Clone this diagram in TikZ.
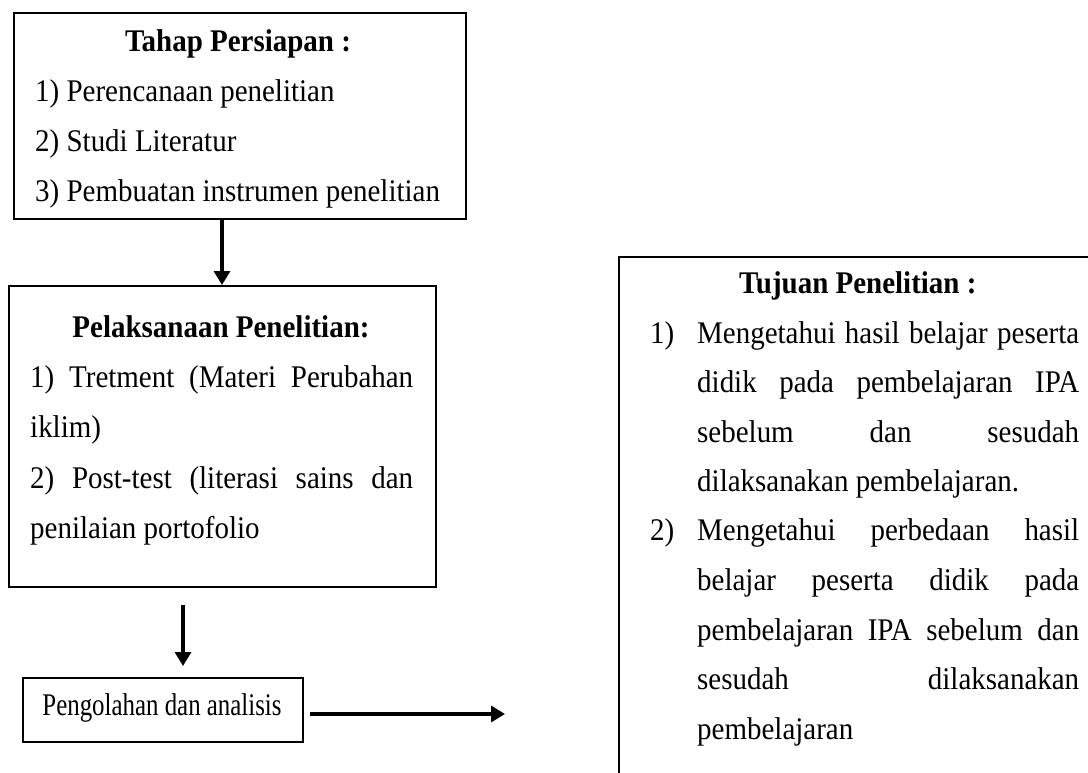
\documentclass[tikz,border=0pt]{standalone}
\usepackage{fontspec}
\setmainfont{Liberation Serif}[FakeStretch=0.92]
\newfontfamily\narrowserif{Liberation Serif}[FakeStretch=0.79]
\usetikzlibrary{arrows.meta}
\begin{document}
\begin{tikzpicture}[x=1pt,y=-1pt,
  box/.style={draw, line width=2.2pt, rectangle, inner sep=0pt, anchor=north west},
  txt/.style={anchor=base west, inner sep=0pt, font=\fontsize{31.5}{35}\selectfont},
  ttl/.style={anchor=base, inner sep=0pt, font=\fontsize{31.5}{35}\selectfont\bfseries},
  arr/.style={line width=3.3pt, -{Triangle[width=16pt,length=14pt]}}]
\clip (0,0) rectangle (1088,773);
\useasboundingbox (0,0) rectangle (1088,773);
% boxes
\node[box, minimum width=452pt, minimum height=206pt] (prep) at (13,12) {};
\node[box, minimum width=427pt, minimum height=301pt, line width=1.9pt] (exec) at (8,285) {};
\node[box, minimum width=280pt, minimum height=64pt] (proc) at (22,677) {};
\node[box, minimum width=500pt, minimum height=560pt] (goal) at (618,256) {};
% box 1 text
\node[ttl] (prepT) at (238,52) {Tahap Persiapan :};
\node[txt] (prep1) at (35,102) {1) Perencanaan penelitian};
\node[txt] (prep2) at (35,152) {2) Studi Literatur};
\node[txt] (prep3) at (35,202) {3) Pembuatan instrumen penelitian};
% box 2 text
\node[ttl] (execT) at (221,337) {Pelaksanaan Penelitian:};
\node[txt] (exec1) at (30,387) {\makebox[383pt][s]{1) Tretment (Materi Perubahan}};
\node[txt] (exec2) at (30,437) {iklim)};
\node[txt] (exec3) at (30,488) {\makebox[383pt][s]{2) Post-test (literasi sains dan}};
\node[txt] (exec4) at (30,538) {penilaian portofolio};
% box 3 text
\node[anchor=base, inner sep=0pt, font=\fontsize{31.5}{35}\narrowserif] (procT) at (162,715) {Pengolahan dan analisis};
% box 4 text
\node[txt, font=\fontsize{31.5}{35}\selectfont\bfseries] (goalT) at (739,293) {Tujuan Penelitian :};
\node[txt] (g1n) at (650,343) {1)};
\node[txt] (g1a) at (697,343) {\makebox[382pt][s]{Mengetahui hasil belajar peserta}};
\node[txt] (g1b) at (697,392.5) {\makebox[382pt][s]{didik pada pembelajaran IPA}};
\node[txt] (g1c) at (697,442) {\makebox[382pt][s]{sebelum dan sesudah}};
\node[txt] (g1d) at (697,491) {dilaksanakan pembelajaran.};
\node[txt] (g2n) at (650,540) {2)};
\node[txt] (g2a) at (697,540) {\makebox[382pt][s]{Mengetahui perbedaan hasil}};
\node[txt] (g2b) at (697,590) {\makebox[382pt][s]{belajar peserta didik pada}};
\node[txt] (g2c) at (697,640) {\makebox[382pt][s]{pembelajaran IPA sebelum dan}};
\node[txt] (g2d) at (697,689) {\makebox[382pt][s]{sesudah dilaksanakan}};
\node[txt] (g2e) at (697,739) {pembelajaran};
% connectors
\coordinate (a2s) at (183,605);
\coordinate (a2e) at (183,666);
\coordinate (a3s) at (310,714);
\coordinate (a3e) at (505,714);
\draw[arr] (prep.south -| 222,0) -- (exec.north -| 222,0);
\draw[arr] (a2s) -- (a2e);
\draw[arr] (a3s) -- (a3e);
\end{tikzpicture}
\end{document}
